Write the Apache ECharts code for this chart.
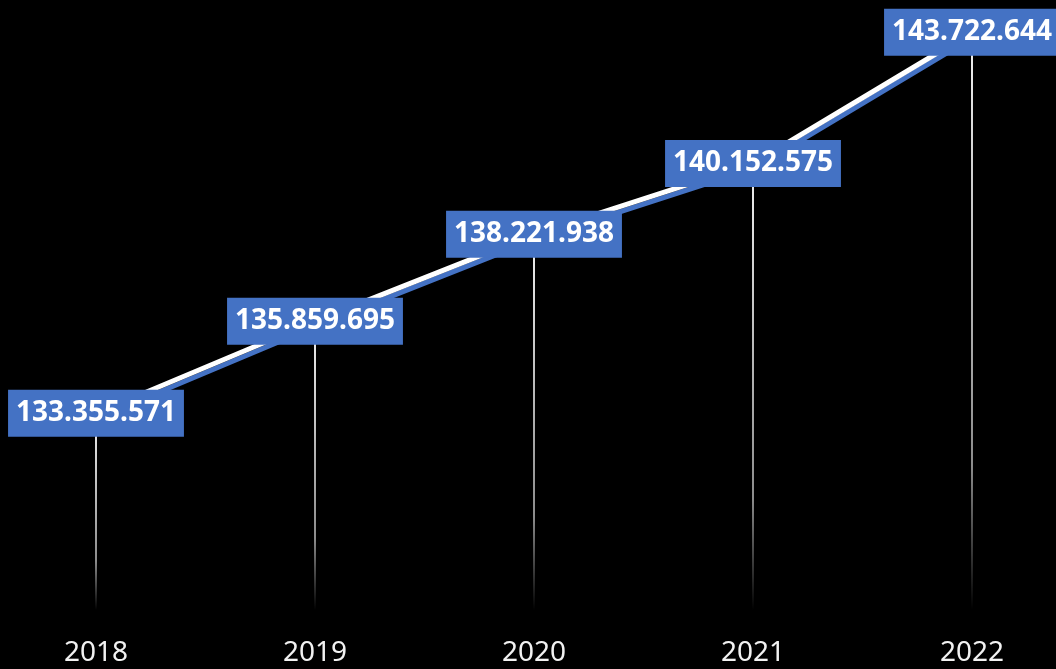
<!DOCTYPE html>
<html>
<head>
<meta charset="utf-8">
<script src="https://cdn.jsdelivr.net/npm/echarts@6/dist/echarts.min.js"></script>
<style>
html,body{margin:0;padding:0;background:#000;}
#chart{width:1056px;height:669px;}
</style>
</head>
<body>
<div id="chart"></div>
<script>
var categories = ['2018', '2019', '2020', '2021', '2022'];
var values = [133355571, 135859695, 138221938, 140152575, 143722644];

function fmt(v) {
  return String(v).replace(/\B(?=(\d{3})+(?!\d))/g, '.');
}

var chart = echarts.init(document.getElementById('chart'));
chart.setOption({
  backgroundColor: '#000000',
  animation: false,
  grid: { left: 96, right: 84, top: 0, bottom: 59, containLabel: false },
  xAxis: {
    type: 'category',
    data: categories,
    boundaryGap: false,
    axisLine: { show: false },
    axisTick: { show: false },
    splitLine: { show: false },
    axisLabel: {
      color: '#f2f2f2',
      fontFamily: 'Noto Sans',
      fontSize: 28,
      margin: 29
    }
  },
  yAxis: {
    type: 'value',
    min: 128000000,
    max: 144600000,
    show: false,
    splitLine: { show: false }
  },
  series: [
    {
      type: 'bar',
      data: values,
      barWidth: 2,
      z: 1,
      itemStyle: {
        color: {
          type: 'linear', x: 0, y: 0, x2: 0, y2: 1,
          colorStops: [
            { offset: 0, color: 'rgba(255,255,255,0.95)' },
            { offset: 0.75, color: 'rgba(255,255,255,0.55)' },
            { offset: 1, color: 'rgba(255,255,255,0)' }
          ]
        }
      }
    },
    {
      type: 'line',
      data: values,
      z: 3,
      symbol: 'circle',
      symbolSize: 1,
      showSymbol: true,
      itemStyle: { color: 'rgba(0,0,0,0)' },
      lineStyle: {
        color: '#ffffff',
        width: 5,
        shadowColor: '#4472C4',
        shadowBlur: 0,
        shadowOffsetX: 1,
        shadowOffsetY: 5
      },
      labelLayout: { hideOverlap: false },
      label: {
        show: true,
        position: 'inside',
        formatter: function (p) { return fmt(p.value); },
        color: '#ffffff',
        fontFamily: 'Noto Sans',
        fontWeight: 'bold',
        fontSize: 28,
        lineHeight: 31,
        backgroundColor: '#4472C4',
        padding: [8, 8, 8, 8]
      }
    }
  ]
});
</script>
</body>
</html>
